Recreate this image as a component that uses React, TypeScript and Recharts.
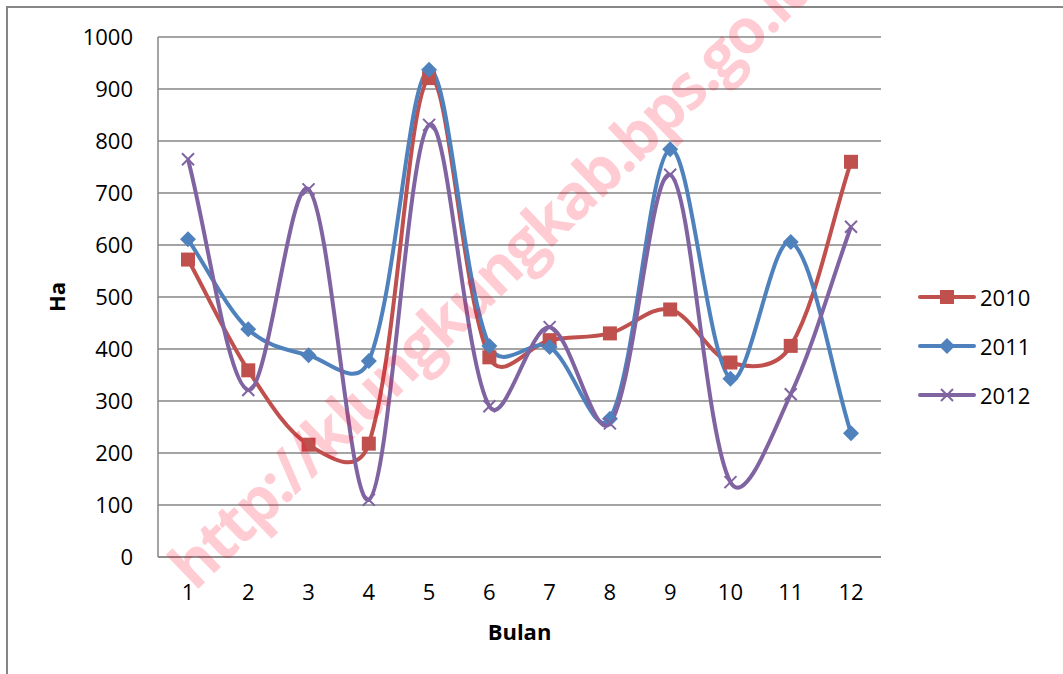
import React from 'react';
import { LineChart, Line, XAxis, YAxis, CartesianGrid, Legend, Label } from 'recharts';

const BULAN = ['1', '2', '3', '4', '5', '6', '7', '8', '9', '10', '11', '12'];
const TAHUN_2010 = [572, 359, 216, 218, 921, 384, 417, 430, 476, 374, 406, 760];
const TAHUN_2011 = [611, 438, 388, 377, 937, 406, 404, 266, 784, 343, 606, 238];
const TAHUN_2012 = [765, 321, 707, 110, 831, 290, 442, 257, 735, 144, 313, 635];
const Y_TICKS = [0, 100, 200, 300, 400, 500, 600, 700, 800, 900, 1000];

const SERIES = [
  { key: 'y2010', name: '2010', color: '#C0504D', marker: 'square' },
  { key: 'y2011', name: '2011', color: '#4F81BD', marker: 'diamond' },
  { key: 'y2012', name: '2012', color: '#8064A2', marker: 'x' },
];

const data = BULAN.map((b, i) => ({
  bulan: b,
  y2010: TAHUN_2010[i],
  y2011: TAHUN_2011[i],
  y2012: TAHUN_2012[i],
}));

const FONT = '"Open Sans", "Noto Sans", sans-serif';
const GRID = '#868686';

// smoothing close to Excel's "smoothed line": bezier with tangents weighted by segment length
const excelSmooth = (context: any) => {
  let pts: number[][] = [];
  return {
    areaStart() {},
    areaEnd() {},
    lineStart() {
      pts = [];
    },
    point(x: number, y: number) {
      pts.push([+x, +y]);
    },
    lineEnd() {
      const n = pts.length;
      if (!n) return;
      context.moveTo(pts[0][0], pts[0][1]);
      const d = (a: number[], b: number[]) => Math.sqrt(Math.hypot(b[0] - a[0], b[1] - a[1]));
      for (let i = 0; i < n - 1; i++) {
        const p0 = pts[i - 1] || pts[i];
        const p1 = pts[i];
        const p2 = pts[i + 1];
        const p3 = pts[i + 2] || p2;
        const d01 = d(p0, p1);
        const d12 = d(p1, p2);
        const d23 = d(p2, p3);
        const a = d01 + d12 > 0 ? d12 / (d01 + d12) / 3 : 0;
        const b = d12 + d23 > 0 ? d12 / (d12 + d23) / 3 : 0;
        context.bezierCurveTo(
          p1[0] + (p2[0] - p0[0]) * a,
          p1[1] + (p2[1] - p0[1]) * a,
          p2[0] - (p3[0] - p1[0]) * b,
          p2[1] - (p3[1] - p1[1]) * b,
          p2[0],
          p2[1]
        );
      }
    },
  };
};

const Marker = ({ type, color, cx, cy }: { type: string; color: string; cx: number; cy: number }) => {
  if (type === 'square') {
    return <rect x={cx - 7} y={cy - 7} width={14} height={14} fill={color} />;
  }
  if (type === 'diamond') {
    return <polygon points={`${cx},${cy - 8} ${cx + 8},${cy} ${cx},${cy + 8} ${cx - 8},${cy}`} fill={color} />;
  }
  return (
    <g stroke={color} strokeWidth={2}>
      <line x1={cx - 6} y1={cy - 6} x2={cx + 6} y2={cy + 6} />
      <line x1={cx - 6} y1={cy + 6} x2={cx + 6} y2={cy - 6} />
    </g>
  );
};

const renderLegend = () => (
  <div>
    {SERIES.map((s) => (
      <div key={s.key} style={{ display: 'flex', alignItems: 'center', height: 49 }}>
        <svg width={60} height={20}>
          <line x1={2} y1={10} x2={56} y2={10} stroke={s.color} strokeWidth={4} strokeLinecap="round" />
          <Marker type={s.marker} color={s.color} cx={29} cy={10} />
        </svg>
        <span style={{ fontFamily: FONT, fontSize: 22, color: '#000', marginLeft: 2 }}>{s.name}</span>
      </div>
    ))}
  </div>
);

const App = () => {
  return (
    <div style={{ position: 'absolute', left: 0, top: 0, width: 1063, height: 674, overflow: 'hidden', background: '#fff' }}>
      <div
        style={{
          position: 'absolute',
          left: 6,
          top: 6,
          width: 1100,
          height: 700,
          border: `2px solid ${GRID}`,
        }}
      />
      <div style={{ position: 'absolute', left: 0, top: 0 }}>
        <LineChart
          width={1063}
          height={674}
          data={data}
          margin={{ top: 37, right: 182, left: 56, bottom: 27 }}
          style={{ fontFamily: FONT }}
        >
          <CartesianGrid vertical={false} stroke={GRID} strokeWidth={1.5} />
          <XAxis
            dataKey="bulan"
            padding={{ left: 30, right: 30 }}
            height={90}
            tickSize={0}
            tickMargin={27}
            tickLine={false}
            axisLine={{ stroke: GRID, strokeWidth: 1.5 }}
            tick={{ fill: '#000', fontSize: 22, fontFamily: FONT }}
            interval={0}
          >
            <Label value="Bulan" position="insideBottom" offset={7} style={{ fontWeight: 'bold', fontSize: 22, fill: '#000', fontFamily: FONT }} />
          </XAxis>
          <YAxis
            width={102}
            domain={[0, 1000]}
            ticks={Y_TICKS}
            tickSize={0}
            tickMargin={25}
            tickLine={false}
            axisLine={{ stroke: GRID, strokeWidth: 1.5 }}
            tick={{ fill: '#000', fontSize: 22, fontFamily: FONT }}
          >
            <Label
              content={(props: any) => {
                const vb = props.viewBox || {};
                const x = vb.x + 0;
                const y = vb.y + vb.height / 2;
                return (
                  <text
                    x={x}
                    y={y}
                    transform={`rotate(-90 ${x} ${y})`}
                    textAnchor="middle"
                    dominantBaseline="central"
                    style={{ fontWeight: 'bold', fontSize: 22, fill: '#000', fontFamily: FONT }}
                  >
                    Ha
                  </text>
                );
              }}
            />
          </YAxis>
          <Legend
            layout="vertical"
            align="center"
            verticalAlign="middle"
            content={renderLegend}
            wrapperStyle={{ left: 918, top: 272, width: 140 }}
          />
          {SERIES.map((s) => (
            <Line
              key={s.key}
              dataKey={s.key}
              name={s.name}
              type={excelSmooth as any}
              stroke={s.color}
              strokeWidth={4}
              isAnimationActive={false}
              dot={(p: any) => <Marker key={`${s.key}-${p.index}`} type={s.marker} color={s.color} cx={p.cx} cy={p.cy} />}
              activeDot={false}
            />
          ))}
        </LineChart>
      </div>
      <svg width={1063} height={674} style={{ position: 'absolute', left: 0, top: 0, pointerEvents: 'none' }}>
        <text
          x={195}
          y={592}
          transform="rotate(-44 195 592)"
          style={{ fontFamily: FONT, fontWeight: 'bold', fontSize: 62, letterSpacing: -2.5, fill: 'rgba(255, 0, 40, 0.2)' }}
        >
          http://klungkungkab.bps.go.id
        </text>
      </svg>
    </div>
  );
};

export default App;
